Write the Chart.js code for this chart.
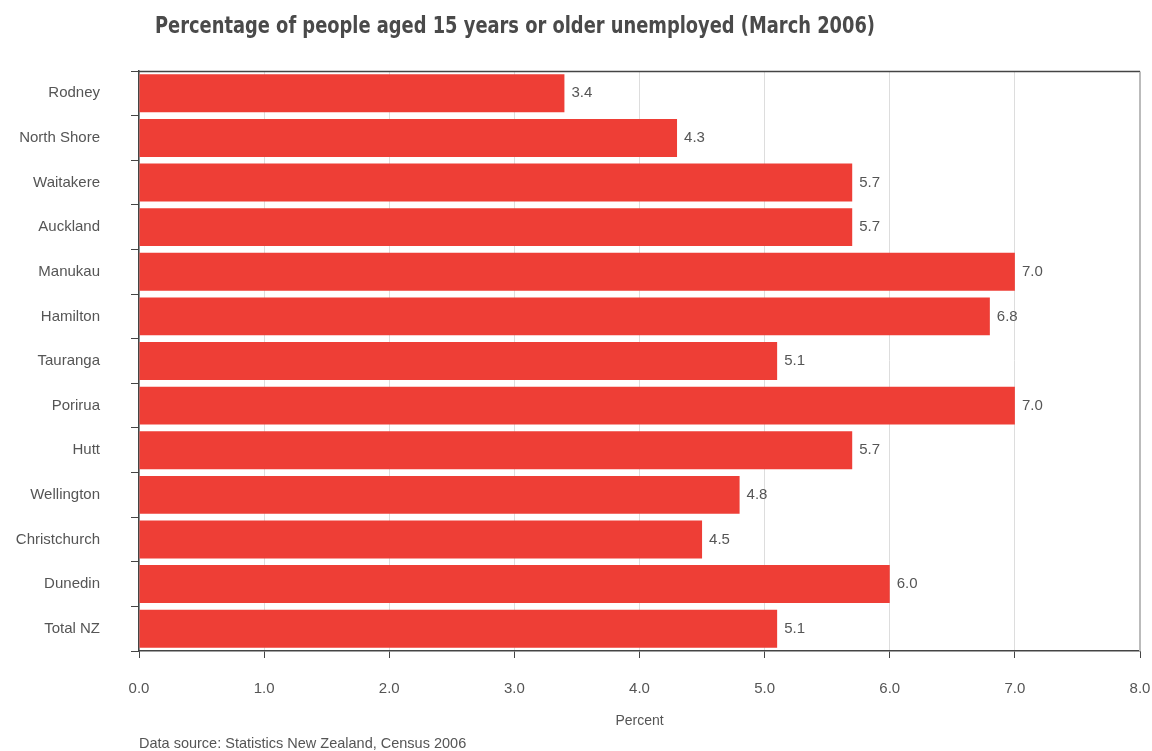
<!DOCTYPE html>
<html>
<head>
<meta charset="utf-8">
<script src="https://cdn.jsdelivr.net/npm/chart.js@4/dist/chart.umd.min.js"></script>
<style>
  html, body { margin: 0; padding: 0; background: #fff; }
  #wrap { width: 1152px; height: 751px; position: relative; }
</style>
</head>
<body>
<div id="wrap"><canvas id="unemployedChart"></canvas></div>
<script>
// unemployment rate by city, March 2006
const cities = ["Rodney", "North Shore", "Waitakere", "Auckland", "Manukau", "Hamilton", "Tauranga",
    "Porirua", "Hutt", "Wellington", "Christchurch", "Dunedin", "Total NZ"];
const percentUnemployed = [3.4, 4.3, 5.7, 5.7, 7.0, 6.8, 5.1, 7.0, 5.7, 4.8, 4.5, 6.0, 5.1];
const xTicks = [0, 1, 2, 3, 4, 5, 6, 7, 8];

const titleText = "Percentage of people aged 15 years or older unemployed (March 2006)";
const sourceText = "Data source: Statistics New Zealand, Census 2006";

const textFont = "'Liberation Sans', Arial, sans-serif";
const textColor = "#555";

// title, frame lines, value labels and source note
const extras = {
    id: 'extras',
    afterDatasetsDraw(chart) {
        const ctx = chart.ctx;
        const area = chart.chartArea;
        ctx.save();

        // top and right frame
        ctx.lineWidth = 1.5;
        ctx.strokeStyle = "#444";
        ctx.beginPath();
        ctx.moveTo(area.left, area.top + 0.5);
        ctx.lineTo(area.right, area.top + 0.5);
        ctx.stroke();
        ctx.lineWidth = 2;
        ctx.strokeStyle = "#bbb";
        ctx.beginPath();
        ctx.moveTo(area.right, area.top + 1);
        ctx.lineTo(area.right, area.bottom);
        ctx.stroke();

        // value at the end of each bar
        ctx.font = "15px " + textFont;
        ctx.fillStyle = textColor;
        ctx.textAlign = "left";
        ctx.textBaseline = "middle";
        chart.getDatasetMeta(0).data.forEach((bar, i) => {
            ctx.fillText(percentUnemployed[i].toFixed(1), bar.x + 7, bar.y);
        });

        // title, condensed bold, squeezed to its set width
        ctx.font = "bold 23px 'Liberation Sans Narrow', 'DejaVu Sans Condensed', sans-serif";
        ctx.fillStyle = "#4a4a4a";
        ctx.textBaseline = "alphabetic";
        const w = ctx.measureText(titleText).width;
        ctx.save();
        ctx.translate(155, 33);
        ctx.scale(Math.min(1, 720 / w), 1);
        ctx.fillText(titleText, 0, 0);
        ctx.restore();

        // source note
        ctx.font = "14.5px " + textFont;
        ctx.fillStyle = textColor;
        ctx.fillText(sourceText, area.left, 748);
        ctx.restore();
    }
};

function unemployedChart() {

    let unemployedChart = document.getElementById('unemployedChart')

    new Chart(unemployedChart, {
        type: 'bar',
        data: {
            labels: cities,
            datasets: [{
                label: "Percent",
                data: percentUnemployed,
                backgroundColor: "rgb(238, 62, 54)",
                borderWidth: 0,
                barPercentage: 0.85,
                categoryPercentage: 1.0
            }]
        },
        options: {
            indexAxis: 'y',
            responsive: true,
            maintainAspectRatio: false,
            animation: false,
            layout: {
                padding: { top: 71, right: 0, bottom: 0, left: 0 }
            },
            plugins: {
                legend: { display: false },
                title: { display: false },
                tooltip: { enabled: false }
            },
            scales: {
                x: {
                    min: 0,
                    max: 8,
                    afterBuildTicks: (scale) => {
                        scale.ticks = xTicks.map(v => ({ value: v }));
                    },
                    afterFit: (scale) => {
                        scale.height = 100;
                        scale.paddingRight = 12;
                    },
                    border: { color: "#444", width: 1.5 },
                    grid: {
                        color: "#ddd",
                        tickColor: "#444",
                        tickLength: 7,
                        lineWidth: 1
                    },
                    ticks: {
                        padding: 22,
                        color: textColor,
                        font: { family: textFont, size: 15 },
                        callback: (v) => Number(v).toFixed(1)
                    },
                    title: {
                        display: true,
                        text: "Percent",
                        color: textColor,
                        font: { family: textFont, size: 14 },
                        padding: { top: 16, bottom: 21 }
                    }
                },
                y: {
                    afterFit: (scale) => { scale.width = 139; },
                    border: { color: "#444", width: 1.5 },
                    grid: {
                        offset: true,
                        drawOnChartArea: false,
                        color: "#444",
                        tickLength: 8
                    },
                    ticks: {
                        padding: 31,
                        color: textColor,
                        font: { family: textFont, size: 15 }
                    }
                }
            }
        },
        plugins: [extras]
    });
}

unemployedChart();
</script>
</body>
</html>
